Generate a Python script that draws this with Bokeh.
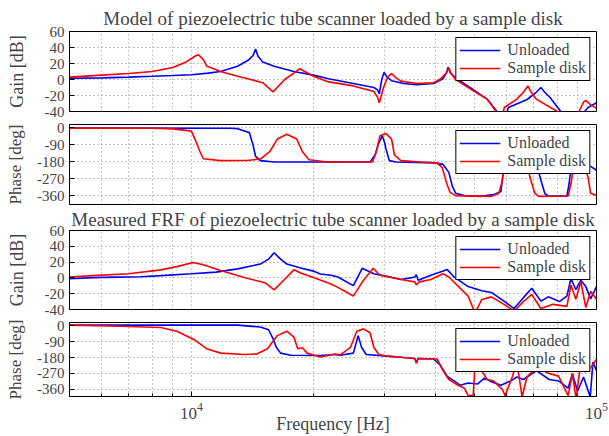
from bokeh.plotting import figure
from bokeh.layouts import column
from bokeh.models import Range1d, FixedTicker
from bokeh.embed import file_html
from bokeh.resources import INLINE

# ---------------- data ----------------
x_major = [1e4, 1e5]
x_minor = [5000, 6000, 7000, 8000, 9000, 20000, 30000, 40000, 50000, 60000, 70000, 80000, 90000]
gain_ticks = [-40, -20, 0, 20, 40, 60]
phase_ticks = [-360, -270, -180, -90, 0]

model_gain_unloaded_f = [5000, 6000, 7000, 8000, 9000, 10000, 11000, 11800, 13000, 13800, 14200, 14400, 14600, 15000, 16000, 17900, 20000, 21800, 25100, 28200, 28800, 29100, 29500, 29900, 30400, 31200, 33400, 35900, 39600, 41800, 42600, 43000, 43600, 45200, 48700, 53700, 56800, 58500, 60600, 67400, 71000, 72900, 74500, 76800, 81900, 88000, 93500, 95300, 100000]
model_gain_unloaded_db = [1.5, 2, 3, 4, 5, 6, 8, 10, 16.5, 24, 30, 38, 29, 22, 16.5, 10, 5.5, 1, -5, -10, -13, -18, 0, 9, 3, -1.5, -5, -6.5, -5, 1, 8, 15.5, 8, 1, -10, -24.5, -40, -60, -35, -25, -16, -10, -16, -22.5, -41, -60, -40, -35, -29]

model_gain_disk_f = [5000, 6000, 7000, 8000, 9000, 9700, 10200, 10400, 10700, 10900, 11800, 13000, 14000, 15000, 15900, 17000, 18000, 18500, 19200, 20000, 21800, 25100, 28200, 28800, 29100, 29800, 30500, 31200, 32000, 32900, 35900, 39600, 41000, 42600, 43200, 43700, 44900, 48700, 53700, 56500, 57800, 59200, 63600, 66000, 67700, 69000, 71000, 80600, 85500, 90500, 93000, 94000, 96500, 100000]
model_gain_disk_db = [3, 5.5, 7.5, 10, 15, 22, 29, 31, 25, 17, 10, 4, 0, -4, -15.5, 0, 9, 13.5, 9, 4, -3, -8, -15, -22, -29, -10, 3, 7.5, 2, -2, -5, -4, 0, 8, 14.5, 8, 0, -11.5, -24.5, -40, -60, -35, -24.5, -16, -8, -16, -24.5, -41, -60, -40, -28, -26, -31, -36]

model_phase_unloaded_f = [5000, 12500, 13000, 13900, 14200, 14400, 14800, 16000, 27600, 28400, 29000, 29600, 30000, 30200, 30800, 32000, 40000, 41800, 43200, 44100, 44900, 47200, 51700, 55700, 58100, 58900, 59500, 71000, 72900, 74600, 76000, 84500, 85600, 86500, 88000, 96500, 100000]
model_phase_unloaded_deg = [-1, -2, -4, -25, -92, -151, -173, -180, -180, -143, -80, -42, -80, -110, -173, -180, -185, -193, -235, -311, -345, -358, -362, -353, -336, -227, -185, -180, -277, -348, -360, -360, -294, -210, -185, -202, -224]

model_phase_disk_f = [5000, 8000, 9000, 10000, 10200, 10500, 10700, 11800, 13700, 14800, 15600, 16300, 17200, 18200, 18800, 19500, 21700, 28000, 28600, 29200, 30200, 31200, 31700, 32900, 36800, 40400, 41600, 42700, 43500, 44900, 55000, 57400, 58600, 59100, 60000, 67400, 68500, 70400, 72000, 85100, 86500, 87700, 89000, 92900, 95300, 96700, 100000]
model_phase_disk_deg = [-1, -2, -5, -17, -59, -126, -163, -173, -172, -165, -126, -59, -34, -59, -126, -168, -180, -180, -126, -42, -29, -59, -143, -173, -180, -185, -210, -294, -341, -358, -362, -345, -277, -193, -180, -185, -260, -345, -362, -360, -294, -210, -185, -190, -260, -345, -358]

meas_gain_unloaded_f = [5000, 5700, 6500, 7500, 8400, 10000, 11500, 13000, 14800, 15500, 16000, 16600, 17200, 18600, 20000, 20800, 22100, 23000, 25100, 26400, 28200, 30400, 32900, 35600, 35900, 36300, 39000, 41500, 42800, 44500, 48200, 52100, 55000, 59100, 62600, 66000, 69200, 72900, 76000, 78100, 81000, 84500, 86500, 88900, 91500, 94100, 96700, 100000]
meas_gain_unloaded_db = [-1, 0.4, 1, 1.5, 2.9, 5.3, 7.3, 11.4, 17.5, 23.7, 31.8, 23.7, 17.5, 12.6, 8.6, 5, 3.3, 1.2, -9.8, 12.2, 5.3, 2, -2, 1, 4, -3, 3.3, 8, 10.5, 1.2, -11, -16.3, -18.4, -29.4, -38.8, -25, -13, -29.4, -24, -26.5, -30, -23, -0.8, -15, -2.9, -11, -26.5, -11]

meas_gain_disk_f = [5000, 5700, 7000, 8400, 9200, 10100, 10700, 11800, 13500, 15200, 16000, 16900, 17900, 18600, 20000, 22100, 23000, 25100, 26600, 28100, 29200, 32900, 35600, 35900, 36500, 39000, 41800, 43200, 48200, 49600, 50100, 52100, 55000, 59100, 62600, 66000, 69200, 72900, 78100, 84500, 86500, 88900, 91500, 94100, 96700, 100000]
meas_gain_disk_db = [1.2, 2.9, 5.3, 10.2, 14.3, 19.6, 16.7, 9.4, 0.4, -6.1, -15.1, -2.9, 10.2, 6.1, 0.4, -7.8, -12, -23, -2.9, 12.2, 3.3, -2, -5, -9, -5, -2, 5.3, 1.2, -23, -38.8, -45, -27.3, -24, -33.5, -42, -30, -21, -38.8, -33.5, -36, -9, -27, -4.9, -37.6, -17, -27]

meas_phase_unloaded_f = [5000, 13000, 14800, 15500, 15900, 16200, 16600, 17600, 20800, 22600, 23300, 25100, 25800, 26300, 27000, 30400, 33400, 35600, 35900, 36300, 39600, 41100, 42800, 44500, 46100, 48200, 50900, 52900, 55000, 58100, 61400, 63600, 66000, 71100, 76400, 80600, 85100, 87200, 89800, 92900, 96500, 98000, 100000]
meas_phase_unloaded_deg = [3, 3, -7, -23, -73, -122, -155, -167, -168, -163, -167, -155, -56, -122, -163, -172, -180, -185, -205, -185, -188, -221, -287, -312, -337, -324, -329, -296, -317, -337, -312, -290, -304, -254, -304, -312, -353, -271, -370, -290, -403, -205, -254]

meas_phase_disk_f = [5000, 6700, 8400, 9200, 10200, 10900, 11800, 13500, 14500, 15400, 16300, 17200, 17900, 18300, 18800, 19300, 20800, 21700, 22600, 23300, 24700, 25600, 26600, 27600, 28200, 29000, 30400, 33400, 35600, 35900, 36300, 40400, 41800, 43200, 44900, 47200, 48200, 49600, 50100, 52100, 53700, 55700, 58600, 59500, 62000, 63600, 65500, 67400, 71100, 76400, 80600, 85100, 87200, 89000, 91000, 94000, 96500, 100000]
meas_phase_disk_deg = [3, -3, -10, -31, -81, -130, -155, -163, -160, -130, -56, -31, -64, -130, -125, -155, -177, -168, -160, -165, -122, -31, -18, -40, -122, -163, -172, -180, -185, -213, -185, -188, -254, -304, -329, -353, -395, -395, -238, -254, -304, -312, -361, -395, -287, -200, -403, -287, -238, -270, -285, -395, -270, -410, -250, -260, -240, -190]

# ---------------- styling ----------------
FONT = "Liberation Serif"
BLUE = "#0000ff"
RED = "#ff0000"
GRID = "#8c8c8c"

x_range = Range1d(5000, 100000)


def make_panel(title, title_standoff, y_rng, yticks, ylabel, ylabel_size, ylabel_standoff,
               height, top, bottom, show_x):
    kw = dict(width=608, height=height, x_axis_type="log", x_range=x_range,
              y_range=Range1d(*y_rng), output_backend="svg", toolbar_location=None,
              min_border_left=69, min_border_right=12, min_border_top=top,
              min_border_bottom=bottom)
    if not show_x:
        kw["x_axis_location"] = None
    if title:
        kw["title"] = title
    p = figure(**kw)
    if title:
        p.title.text_font = FONT
        p.title.text_font_size = "19px"
        p.title.text_font_style = "normal"
        p.title.align = "center"
        p.title.standoff = title_standoff
    p.outline_line_color = "black"
    p.outline_line_alpha = 1
    p.background_fill_color = "white"

    if show_x:
        xa = p.xaxis[0]
        xa.ticker = FixedTicker(ticks=x_major, minor_ticks=x_minor)
        xa.major_tick_in = 5
        xa.major_tick_out = 0
        xa.minor_tick_in = 3
        xa.minor_tick_out = 0
        xa.axis_line_color = "black"
        xa.major_label_text_font = FONT
        xa.major_label_text_font_size = "17px"
        xa.major_label_standoff = 6
        xa.axis_label = "Frequency [Hz]"
        xa.axis_label_text_font = FONT
        xa.axis_label_text_font_size = "18px"
        xa.axis_label_text_font_style = "normal"
        xa.axis_label_standoff = -8

    ya = p.yaxis[0]
    ya.ticker = FixedTicker(ticks=yticks)
    ya.major_label_overrides = {t: str(t) for t in yticks}
    ya.major_label_text_font = FONT
    ya.major_label_text_font_size = "15px"
    ya.major_label_standoff = 5
    ya.major_tick_in = 5
    ya.major_tick_out = 0
    ya.minor_tick_in = 0
    ya.minor_tick_out = 0
    ya.axis_line_color = "black"
    ya.axis_label = ylabel
    ya.axis_label_text_font = FONT
    ya.axis_label_text_font_size = ylabel_size
    ya.axis_label_text_font_style = "normal"
    ya.axis_label_standoff = ylabel_standoff

    p.xgrid[0].ticker = FixedTicker(ticks=x_major, minor_ticks=x_minor)
    for g in (p.xgrid[0], p.ygrid[0]):
        g.grid_line_color = GRID
        g.grid_line_dash = "1 3"
        g.grid_line_width = 1
    p.xgrid[0].minor_grid_line_color = GRID
    p.xgrid[0].minor_grid_line_dash = "1 3"
    return p


def add_lines(p, f1, v1, f2, v2):
    p.line(f1, v1, color=BLUE, line_width=1.6, legend_label="Unloaded")
    p.line(f2, v2, color=RED, line_width=1.6, legend_label="Sample disk")
    lg = p.legend[0]
    lg.location = "top_right"
    lg.margin = 6
    lg.padding = 3
    lg.spacing = 0
    lg.glyph_width = 41
    lg.glyph_height = 16
    lg.label_height = 16
    lg.label_standoff = 7
    lg.label_text_font = FONT
    lg.label_text_font_size = "16px"
    lg.border_line_color = "black"
    lg.border_line_width = 1
    lg.border_line_alpha = 1
    lg.background_fill_alpha = 1


p1 = make_panel("Model of piezoelectric tube scanner loaded by a sample disk", 6, (-40, 60), gain_ticks,
                "Gain [dB]", "18px", 15, 119, 31, 8, False)
add_lines(p1, model_gain_unloaded_f, model_gain_unloaded_db, model_gain_disk_f, model_gain_disk_db)

p2 = make_panel(None, 0, (-405, 18), phase_ticks, "Phase [deg]", "17px", 9, 86, 5, 1, False)
add_lines(p2, model_phase_unloaded_f, model_phase_unloaded_deg, model_phase_disk_f, model_phase_disk_deg)

p3 = make_panel("Measured FRF of piezoelectric tube scanner loaded by a sample disk", 2, (-40, 60), gain_ticks,
                "Gain [dB]", "18px", 15, 112, 25, 8, False)
add_lines(p3, meas_gain_unloaded_f, meas_gain_unloaded_db, meas_gain_disk_f, meas_gain_disk_db)

p4 = make_panel(None, 0, (-400, 18), phase_ticks, "Phase [deg]", "17px", 9, 119, 5, 37, True)
add_lines(p4, meas_phase_unloaded_f, meas_phase_unloaded_deg, meas_phase_disk_f, meas_phase_disk_deg)

layout = column(p1, p2, p3, p4, spacing=0)
open("out.html", "w").write(file_html(layout, INLINE))
